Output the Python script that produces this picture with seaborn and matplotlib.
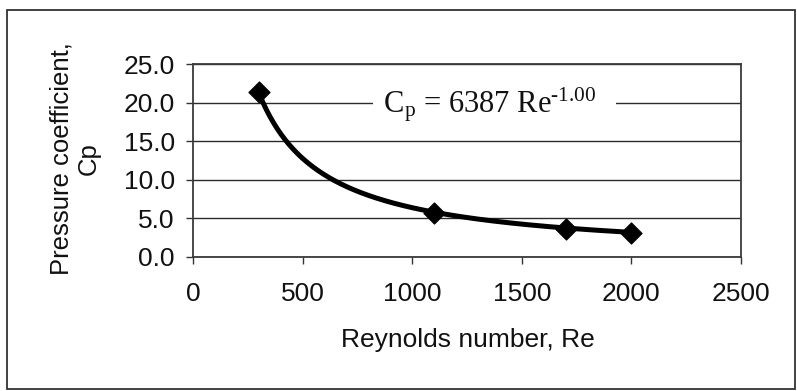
import numpy as np
import pandas as pd
import matplotlib
matplotlib.use("Agg")
import matplotlib.pyplot as plt
from matplotlib.patches import Rectangle
import seaborn as sns

# Measured data
reynolds = [300, 1100, 1700, 2000]
cp_values = [21.4, 5.7, 3.6, 3.1]

# Power-law trendline: Cp = a * Re^b
fit_coef = 6387
fit_exp = -1.00

x_ticks = [0, 500, 1000, 1500, 2000, 2500]
y_ticks = [0.0, 5.0, 10.0, 15.0, 20.0, 25.0]

sns.set_style("white")
plt.rcParams["font.family"] = ["Liberation Sans", "DejaVu Sans"]
plt.rcParams["mathtext.default"] = "regular"

W, H = 797, 391
fig = plt.figure(figsize=(W / 100, H / 100), dpi=100)
fig.patch.set_facecolor("white")

L, R, T, B = 193, 741, 64, 257
ax = fig.add_axes([L / W, 1 - B / H, (R - L) / W, (B - T) / H])

df_pts = pd.DataFrame({"Re": reynolds, "Cp": cp_values})
re_fit = np.linspace(min(reynolds), max(reynolds), 300)
df_fit = pd.DataFrame({"Re": re_fit, "Cp": fit_coef * re_fit ** fit_exp})

for y in y_ticks:
    ax.axhline(y, color="#2b2b2b", lw=1.0, zorder=1)

sns.lineplot(data=df_fit, x="Re", y="Cp", ax=ax, color="black", lw=3.6,
             zorder=3, sort=False)
sns.scatterplot(data=df_pts, x="Re", y="Cp", ax=ax, marker="D", s=115,
                color="black", edgecolor="black", zorder=4)

ax.set_xlim(0, 2500)
ax.set_ylim(0, 25)
ax.set_xticks(x_ticks)
ax.set_xticklabels([str(v) for v in x_ticks])
ax.set_yticks(y_ticks)
ax.set_yticklabels([f"{v:.1f}" for v in y_ticks])
ax.tick_params(axis="both", direction="out", length=5, width=1.0,
               color="#333333", labelsize=19, labelcolor="#111111")
ax.tick_params(axis="x", pad=13)
ax.tick_params(axis="y", pad=8)
ax.tick_params(left=True, bottom=True)
for s in ax.spines.values():
    s.set_visible(True)
    s.set_color("#3a3a3a")
    s.set_linewidth(1.3)
ax.set_xlabel("")
ax.set_ylabel("")

# trendline equation label; the white box interrupts the 20.0 gridline
ax.text(1375, 19.8, " C$_{p}$ = 6387 Re$^{\u20101.00}$   ", ha="center", va="center",
        fontsize=22, family=["Liberation Serif", "DejaVu Serif"], color="#111111",
        zorder=5,
        bbox=dict(boxstyle="square,pad=0.1", facecolor="white", edgecolor="none"))

fig.text(75 / W, 1 - 159 / H, "Pressure coefficient,\nCp", rotation=90,
         ha="center", va="center", fontsize=18.5, color="#111111",
         linespacing=1.15, multialignment="center")
fig.text(468 / W, 1 - 340 / H, "Reynolds number, Re", ha="center", va="center",
         fontsize=19, color="#111111")

fig.patches.append(Rectangle((7 / W, 1 - 389 / H), (795 - 7) / W, (389 - 10) / H,
                             transform=fig.transFigure, fill=False,
                             edgecolor="#333333", lw=1.3))

fig.savefig("out.png", dpi=100)
